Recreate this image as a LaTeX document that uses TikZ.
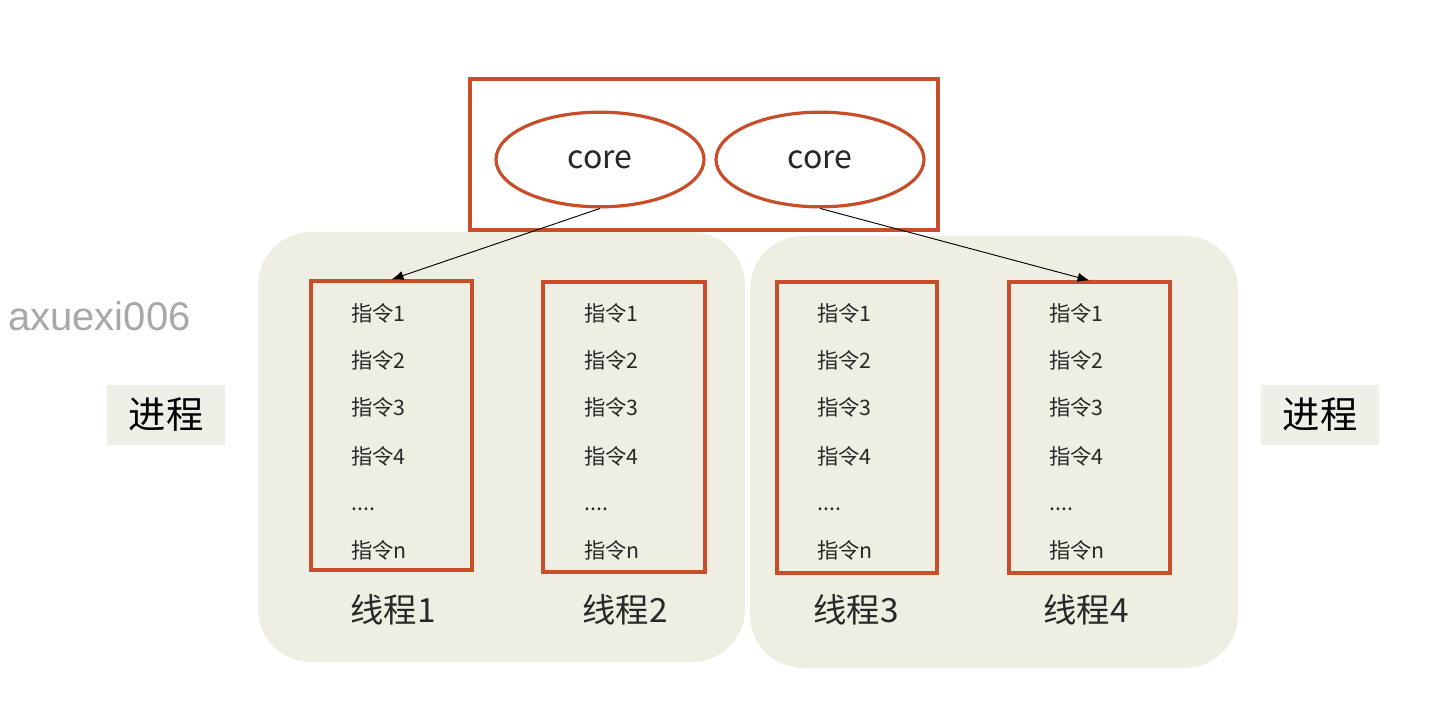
\documentclass[tikz,border=0pt]{standalone}
\usepackage{fontspec}
\setmainfont{Noto Sans CJK SC}
\newfontfamily\wmfont{Liberation Sans}
\usetikzlibrary{shapes.geometric,arrows.meta}
\definecolor{redline}{RGB}{200,78,42}
\definecolor{beige}{RGB}{238,238,226}
\definecolor{labelbg}{RGB}{239,239,232}
\definecolor{txt}{RGB}{40,40,40}
\definecolor{wm}{RGB}{168,168,168}
\tikzset{
  proc/.style={fill=beige, draw=none, rounded corners=40pt},
  corebox/.style={draw=redline, line width=2.4pt, fill=white},
  coreell/.style={ellipse, draw=redline, line width=2.4pt, fill=white,
    minimum width=156pt, minimum height=71pt, inner sep=0pt,
    font=\fontsize{24}{28}\selectfont, text=txt},
  thread/.style={rectangle, draw=redline, line width=2.3pt, inner sep=0pt},
  instr/.style={anchor=west, inner sep=0pt, font=\fontsize{16}{19}\selectfont, text=txt},
  tlabel/.style={inner sep=0pt, font=\fontsize{25}{29}\selectfont, text=txt},
  plabel/.style={fill=labelbg, inner sep=0pt, minimum width=88pt, minimum height=45pt,
    font=\fontsize{28}{32}\selectfont, text=black},
  conn/.style={draw=black, line width=0.7pt, -{Latex[length=9pt,width=7pt]}}
}
\begin{document}
\begin{tikzpicture}[x=0.75pt,y=-0.75pt]
\useasboundingbox (0,0) rectangle (1441,720);
\fill[white] (0,0) rectangle (1441,720);
% process backgrounds
\path[proc] (258,232) rectangle (745,662);
\path[proc] (750,236) rectangle (1238,668);
% core box
\draw[corebox] (470,79) rectangle (938,230);
\node[coreell] (c1) at (600,159.5) {core};
\node[coreell] (c2) at (820,159.5) {core};
% thread boxes
\node[thread, minimum width={161*0.75pt}, minimum height={289*0.75pt}] (t1) at (391.5,425.5) {};
\node[thread, minimum width={162*0.75pt}, minimum height={290*0.75pt}] (t2) at (624,427) {};
\node[thread, minimum width={160*0.75pt}, minimum height={291*0.75pt}] (t3) at (857,427.5) {};
\node[thread, minimum width={161*0.75pt}, minimum height={291*0.75pt}] (t4) at (1089.5,427.5) {};
% instructions
\foreach \i/\x in {1/351,2/584,3/817,4/1049}{
  \node[instr] (i\i a) at (\x,313) {指令1};
  \node[instr] (i\i b) at (\x,360) {指令2};
  \node[instr] (i\i c) at (\x,407) {指令3};
  \node[instr] (i\i d) at (\x,456) {指令4};
  \node[instr] (i\i e) at (\x,509) {....};
  \node[instr] (i\i f) at (\x,550) {指令n};
}
% thread labels
\node[tlabel] (l1) at (393,610) {线程1};
\node[tlabel] (l2) at (625,610) {线程2};
\node[tlabel] (l3) at (856,610) {线程3};
\node[tlabel] (l4) at (1086,610) {线程4};
% process labels
\node[plabel] (p1) at (166,415) {进程};
\node[plabel] (p2) at (1320,415) {进程};
% watermark
\node[anchor=west, inner sep=0pt, font=\wmfont\fontsize{30}{34}\selectfont, text=wm] (wmk) at (8,316) {axuexi006};
% connectors
\draw[conn] (c1.south) -- (t1.north);
\draw[conn] (c2.south) -- (t4.north);
\end{tikzpicture}
\end{document}
